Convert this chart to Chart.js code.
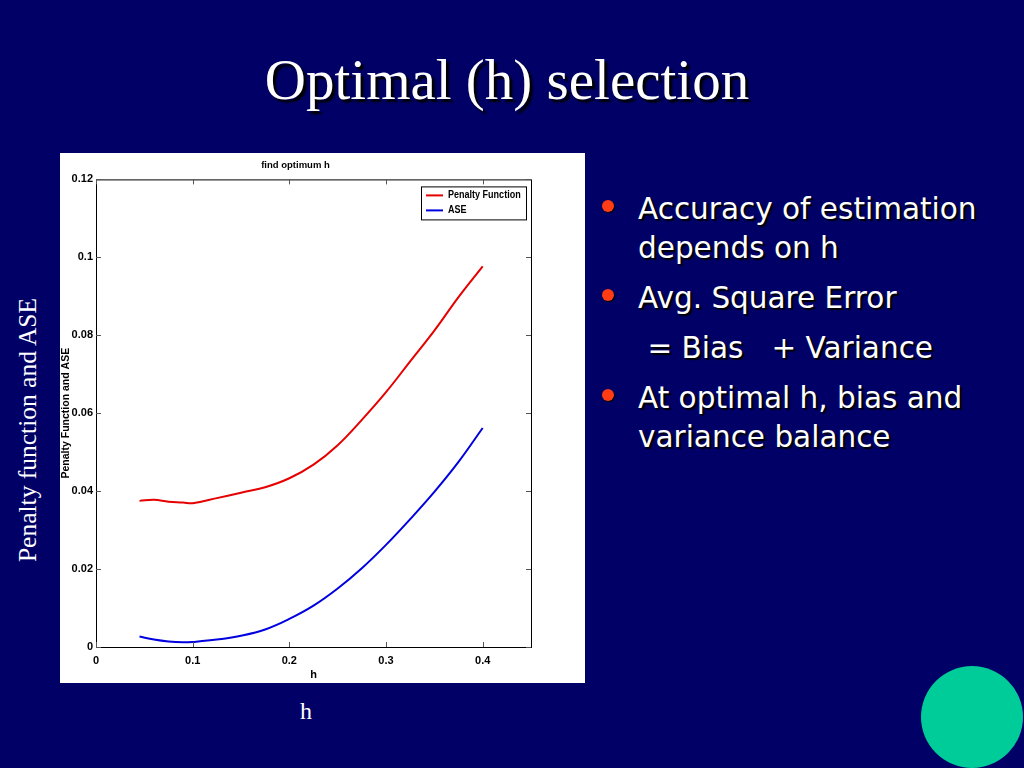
<!DOCTYPE html>
<html>
<head>
<meta charset="utf-8">
<script src="https://cdn.jsdelivr.net/npm/chart.js@4.4.0/dist/chart.umd.min.js"></script>
<style>
  html, body { margin: 0; padding: 0; }
  body {
    width: 1024px; height: 768px; overflow: hidden;
    background: #000066; position: relative;
    color: #fff;
  }
  .slide-title {
    position: absolute; left: 0; top: 50px; width: 1014px;
    text-align: center;
    font-family: "Liberation Serif", "DejaVu Serif", serif;
    font-size: 57px; line-height: 60px;
    text-shadow: 3px 3px 2px #000;
  }
  .side-label {
    position: absolute; left: 28px; top: 430px;
    transform: translate(-50%, -50%) rotate(-90deg);
    white-space: nowrap;
    font-family: "Liberation Serif", serif; font-size: 25.5px;
  }
  .h-label {
    position: absolute; left: 300px; top: 698px;
    font-family: "Liberation Serif", serif; font-size: 24px;
  }
  .chart-box {
    position: absolute; left: 60px; top: 153px;
    width: 525px; height: 530px; background: #fff;
  }
  ul.bullets {
    position: absolute; left: 600px; top: 190px; width: 424px;
    margin: 0; padding: 0; list-style: none;
    font-family: "DejaVu Sans", sans-serif;
    font-size: 29.5px; line-height: 39px;
    text-shadow: 2px 2px 1px #000;
  }
  ul.bullets li { position: relative; padding-left: 38px; margin-bottom: 11px; }
  ul.bullets li .dot {
    position: absolute; left: 2px; top: 10px;
    width: 12px; height: 12px; border-radius: 50%;
    background: #ff3c14; box-shadow: 1px 1px 1px #000;
  }
  .circle {
    position: absolute; left: 921px; top: 666px;
    width: 102px; height: 102px; border-radius: 50%;
    background: #00cc99;
  }
</style>
</head>
<body>
<div class="slide-title">Optimal (h) selection</div>
<div class="side-label">Penalty function and ASE</div>
<div class="h-label">h</div>
<div class="chart-box"><canvas id="plot" width="525" height="530"></canvas></div>
<ul class="bullets">
  <li><span class="dot"></span>Accuracy of estimation depends on h</li>
  <li><span class="dot"></span>Avg. Square Error</li>
  <li>&nbsp;= Bias &nbsp;&nbsp;+ Variance</li>
  <li><span class="dot"></span>At optimal h, bias and variance balance</li>
</ul>
<div class="circle"></div>

<script>
// ─── Data ──────────────────────────────────────────────────────────
const hValues = [0.045, 0.06, 0.075, 0.09, 0.1, 0.125, 0.15, 0.175, 0.2,
                 0.225, 0.25, 0.275, 0.3, 0.325, 0.35, 0.375, 0.4];
const penaltyValues = [0.0375, 0.0378, 0.0373, 0.0371, 0.0369, 0.0382, 0.0396, 0.0410, 0.0433,
                       0.0468, 0.0518, 0.0583, 0.0654, 0.0733, 0.0812, 0.0898, 0.0977];
const aseValues = [0.0027, 0.0019, 0.0014, 0.0012, 0.0013, 0.0019, 0.0029, 0.0045, 0.0072,
                   0.0106, 0.0150, 0.0202, 0.0262, 0.0328, 0.0398, 0.0475, 0.0562];
const xTicks = [0, 0.1, 0.2, 0.3, 0.4];
const yTicks = [0, 0.02, 0.04, 0.06, 0.08, 0.1, 0.12];
const seriesLabels = ["Penalty Function", "ASE"];
const seriesColors = ["#e60000", "#0000e0"];

const FONT = "'Liberation Sans', Arial, sans-serif";

// MATLAB style box: frame round the plot area, inward ticks on all sides, boxed legend
const matlabBox = {
  id: "matlabBox",
  afterDatasetsDraw(chart) {
    const { ctx, chartArea: a, scales } = chart;
    ctx.save();
    ctx.strokeStyle = "#000";
    ctx.lineWidth = 1;
    ctx.strokeRect(a.left + 0.5, a.top + 0.5, a.right - a.left, a.bottom - a.top);
    ctx.strokeStyle = "#555";
    ctx.beginPath();
    scales.x.ticks.forEach((t, i) => {
      const px = Math.round(scales.x.getPixelForTick(i)) + 0.5;
      ctx.moveTo(px, a.bottom); ctx.lineTo(px, a.bottom - 5);
      ctx.moveTo(px, a.top); ctx.lineTo(px, a.top + 5);
    });
    scales.y.ticks.forEach((t, i) => {
      const py = Math.round(scales.y.getPixelForTick(i)) + 0.5;
      ctx.moveTo(a.left, py); ctx.lineTo(a.left + 5, py);
      ctx.moveTo(a.right, py); ctx.lineTo(a.right - 5, py);
    });
    ctx.stroke();

    // legend box
    const lw = 105, lh = 33;
    const lx = a.right - 5 - lw, ly = a.top + 7;
    ctx.fillStyle = "#fff";
    ctx.fillRect(lx, ly, lw, lh);
    ctx.strokeStyle = "#000";
    ctx.strokeRect(lx + 0.5, ly + 0.5, lw, lh);
    ctx.font = "bold 11px " + FONT;
    ctx.textBaseline = "middle";
    chart.data.datasets.forEach((ds, i) => {
      const yy = ly + 9 + i * 15;
      ctx.strokeStyle = ds.borderColor;
      ctx.lineWidth = 2;
      ctx.beginPath();
      ctx.moveTo(lx + 5, yy); ctx.lineTo(lx + 22, yy);
      ctx.stroke();
      ctx.fillStyle = "#000";
      const w = ctx.measureText(ds.label).width * 0.82;
      ctx.fillText(ds.label, lx + 27, yy, w);
    });
    ctx.restore();
  }
};

new Chart(document.getElementById("plot").getContext("2d"), {
  type: "line",
  data: {
    datasets: [
      {
        label: seriesLabels[0],
        data: hValues.map((h, i) => ({ x: h, y: penaltyValues[i] })),
        borderColor: seriesColors[0],
        borderWidth: 2,
        pointRadius: 0,
        tension: 0.4,
        fill: false,
      },
      {
        label: seriesLabels[1],
        data: hValues.map((h, i) => ({ x: h, y: aseValues[i] })),
        borderColor: seriesColors[1],
        borderWidth: 2,
        pointRadius: 0,
        tension: 0.4,
        fill: false,
      },
    ],
  },
  options: {
    responsive: false,
    animation: false,
    layout: { padding: { left: 0, top: 0, right: 54, bottom: 0 } },
    plugins: {
      legend: { display: false },
      tooltip: { enabled: false },
      title: {
        display: true,
        text: "find optimum h",
        color: "#000",
        font: { family: FONT, size: 9.5, weight: "bold" },
        padding: { top: 7, bottom: 8 },
      },
    },
    scales: {
      x: {
        type: "linear",
        min: 0,
        max: 0.45,
        afterBuildTicks: (scale) => { scale.ticks = xTicks.map((v) => ({ value: v })); },
        afterFit: (scale) => { scale.height = 36; },
        grid: { display: false, drawTicks: false },
        border: { display: false },
        ticks: {
          color: "#000",
          padding: 7,
          maxRotation: 0,
          font: { family: FONT, size: 11, weight: "bold" },
          callback: (v) => String(v),
        },
        title: {
          display: true,
          text: "h",
          color: "#000",
          padding: { top: 0, bottom: 1 },
          font: { family: FONT, size: 11, weight: "bold" },
        },
      },
      y: {
        min: 0,
        max: 0.12,
        afterBuildTicks: (scale) => { scale.ticks = yTicks.map((v) => ({ value: v })); },
        afterFit: (scale) => { scale.width = 36; },
        grid: { display: false, drawTicks: false },
        border: { display: false },
        ticks: {
          color: "#000",
          padding: 3,
          font: { family: FONT, size: 11, weight: "bold" },
          callback: (v) => String(v),
        },
        title: {
          display: true,
          text: "Penalty Function and ASE",
          color: "#000",
          padding: { top: 0, bottom: 0 },
          font: { family: FONT, size: 10.5, weight: "bold" },
        },
      },
    },
  },
  plugins: [matlabBox],
});
</script>
</body>
</html>
